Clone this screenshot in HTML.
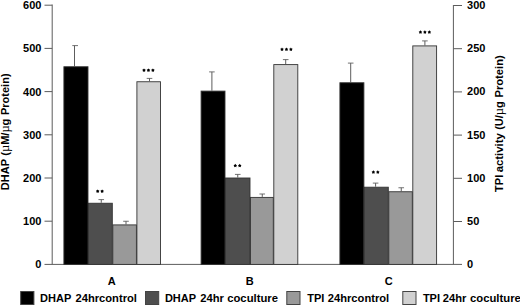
<!DOCTYPE html>
<html><head><meta charset="utf-8"><title>chart</title>
<style>
html,body{margin:0;padding:0;background:#fff;}
body{width:520px;height:306px;overflow:hidden;}
svg{display:block;}
text{font-family:"Liberation Sans",sans-serif;font-weight:bold;font-size:11px;fill:#000;}
.mu{font-family:"Liberation Serif",serif;font-weight:normal;font-size:12.5px;}
</style></head><body>
<svg width="520" height="306" viewBox="0 0 520 306">
<rect x="0" y="0" width="520" height="306" fill="#fff"/>

<g stroke="#5c5c5c" stroke-width="1" fill="none">
<line x1="52.2" y1="4.5" x2="52.2" y2="264.4"/>
<line x1="453.4" y1="5" x2="453.4" y2="264.4"/>
<line x1="44.5" y1="264.4" x2="462" y2="264.4"/>
<line x1="44.5" y1="221.20" x2="52.2" y2="221.20"/>
<line x1="453.4" y1="221.50" x2="462" y2="221.50"/>
<line x1="44.5" y1="178.00" x2="52.2" y2="178.00"/>
<line x1="453.4" y1="178.30" x2="462" y2="178.30"/>
<line x1="44.5" y1="134.80" x2="52.2" y2="134.80"/>
<line x1="453.4" y1="135.10" x2="462" y2="135.10"/>
<line x1="44.5" y1="91.60" x2="52.2" y2="91.60"/>
<line x1="453.4" y1="91.90" x2="462" y2="91.90"/>
<line x1="44.5" y1="48.40" x2="52.2" y2="48.40"/>
<line x1="453.4" y1="48.70" x2="462" y2="48.70"/>
<line x1="44.5" y1="5.20" x2="52.2" y2="5.20"/>
<line x1="453.4" y1="5.50" x2="462" y2="5.50"/>
</g>
<text x="41.4" y="268.40" text-anchor="end">0</text>
<text x="467.1" y="268.20">0</text>
<text x="41.4" y="225.20" text-anchor="end">100</text>
<text x="467.1" y="225.00">50</text>
<text x="41.4" y="182.00" text-anchor="end">200</text>
<text x="467.1" y="181.80">100</text>
<text x="41.4" y="138.80" text-anchor="end">300</text>
<text x="467.1" y="138.60">150</text>
<text x="41.4" y="95.60" text-anchor="end">400</text>
<text x="467.1" y="95.40">200</text>
<text x="41.4" y="52.40" text-anchor="end">500</text>
<text x="467.1" y="52.20">250</text>
<text x="41.4" y="9.20" text-anchor="end">600</text>
<text x="467.1" y="9.00">300</text>
<line x1="74.5" y1="45.6" x2="74.5" y2="66.25" stroke="#333" stroke-width="0.8"/>
<line x1="72.30" y1="45.6" x2="78.00" y2="45.6" stroke="#5a5a5a" stroke-width="0.85"/>
<rect x="63.90" y="66.75" width="24.10" height="197.65" fill="#000" stroke="#333" stroke-width="0.9"/>
<line x1="101.25" y1="199.6" x2="101.25" y2="202.75" stroke="#333" stroke-width="0.8"/>
<line x1="98.45" y1="199.6" x2="104.05" y2="199.6" stroke="#5a5a5a" stroke-width="0.85"/>
<rect x="88.50" y="203.25" width="23.80" height="61.15" fill="#4e4e4e" stroke="#333" stroke-width="0.9"/>
<polygon points="97.68,189.45 98.35,190.37 99.43,190.73 98.77,191.66 98.76,192.80 97.68,192.45 96.59,192.80 96.58,191.66 95.92,190.73 97.00,190.37" fill="#000"/>
<polygon points="102.12,189.45 102.80,190.37 103.88,190.73 103.22,191.66 103.21,192.80 102.12,192.45 101.04,192.80 101.03,191.66 100.37,190.73 101.45,190.37" fill="#000"/>
<line x1="126.0" y1="221.25" x2="126.0" y2="224.4" stroke="#333" stroke-width="0.8"/>
<line x1="123.20" y1="221.25" x2="128.80" y2="221.25" stroke="#5a5a5a" stroke-width="0.85"/>
<rect x="112.80" y="224.90" width="23.60" height="39.50" fill="#999" stroke="#333" stroke-width="0.9"/>
<line x1="149.5" y1="78.4" x2="149.5" y2="81.25" stroke="#333" stroke-width="0.8"/>
<line x1="146.70" y1="78.4" x2="152.30" y2="78.4" stroke="#5a5a5a" stroke-width="0.85"/>
<rect x="136.90" y="81.75" width="23.60" height="182.65" fill="#d1d1d1" stroke="#333" stroke-width="0.9"/>
<polygon points="144.00,68.45 144.68,69.37 145.76,69.73 145.09,70.66 145.09,71.80 144.00,71.45 142.91,71.80 142.91,70.66 142.24,69.73 143.32,69.37" fill="#000"/>
<polygon points="148.45,68.45 149.13,69.37 150.21,69.73 149.54,70.66 149.54,71.80 148.45,71.45 147.36,71.80 147.36,70.66 146.69,69.73 147.77,69.37" fill="#000"/>
<polygon points="152.90,68.45 153.58,69.37 154.66,69.73 153.99,70.66 153.99,71.80 152.90,71.45 151.81,71.80 151.81,70.66 151.14,69.73 152.22,69.37" fill="#000"/>
<line x1="211.9" y1="71.9" x2="211.9" y2="90.6" stroke="#333" stroke-width="0.8"/>
<line x1="209.10" y1="71.9" x2="214.70" y2="71.9" stroke="#5a5a5a" stroke-width="0.85"/>
<rect x="201.10" y="91.10" width="23.90" height="173.30" fill="#000" stroke="#333" stroke-width="0.9"/>
<line x1="237.75" y1="174.4" x2="237.75" y2="177.5" stroke="#333" stroke-width="0.8"/>
<line x1="234.95" y1="174.4" x2="240.55" y2="174.4" stroke="#5a5a5a" stroke-width="0.85"/>
<rect x="225.50" y="178.00" width="24.50" height="86.40" fill="#4e4e4e" stroke="#333" stroke-width="0.9"/>
<polygon points="235.28,163.85 235.95,164.77 237.03,165.13 236.37,166.06 236.36,167.20 235.28,166.85 234.19,167.20 234.18,166.06 233.52,165.13 234.60,164.77" fill="#000"/>
<polygon points="239.72,163.85 240.40,164.77 241.48,165.13 240.82,166.06 240.81,167.20 239.72,166.85 238.64,167.20 238.63,166.06 237.97,165.13 239.05,164.77" fill="#000"/>
<line x1="262.25" y1="194.0" x2="262.25" y2="196.9" stroke="#333" stroke-width="0.8"/>
<line x1="259.45" y1="194.0" x2="265.05" y2="194.0" stroke="#5a5a5a" stroke-width="0.85"/>
<rect x="250.50" y="197.40" width="22.80" height="67.00" fill="#999" stroke="#333" stroke-width="0.9"/>
<line x1="285.7" y1="59.6" x2="285.7" y2="64.1" stroke="#333" stroke-width="0.8"/>
<line x1="282.90" y1="59.6" x2="288.50" y2="59.6" stroke="#5a5a5a" stroke-width="0.85"/>
<rect x="273.80" y="64.60" width="24.00" height="199.80" fill="#d1d1d1" stroke="#333" stroke-width="0.9"/>
<polygon points="282.00,47.55 282.68,48.47 283.76,48.83 283.09,49.76 283.09,50.90 282.00,50.55 280.91,50.90 280.91,49.76 280.24,48.83 281.32,48.47" fill="#000"/>
<polygon points="286.45,47.55 287.13,48.47 288.21,48.83 287.54,49.76 287.54,50.90 286.45,50.55 285.36,50.90 285.36,49.76 284.69,48.83 285.77,48.47" fill="#000"/>
<polygon points="290.90,47.55 291.58,48.47 292.66,48.83 291.99,49.76 291.99,50.90 290.90,50.55 289.81,50.90 289.81,49.76 289.14,48.83 290.22,48.47" fill="#000"/>
<line x1="350.7" y1="63.1" x2="350.7" y2="82.25" stroke="#333" stroke-width="0.8"/>
<line x1="347.90" y1="63.1" x2="353.50" y2="63.1" stroke="#5a5a5a" stroke-width="0.85"/>
<rect x="339.90" y="82.75" width="24.00" height="181.65" fill="#000" stroke="#333" stroke-width="0.9"/>
<line x1="375.6" y1="183.1" x2="375.6" y2="186.7" stroke="#333" stroke-width="0.8"/>
<line x1="372.80" y1="183.1" x2="378.40" y2="183.1" stroke="#5a5a5a" stroke-width="0.85"/>
<rect x="364.40" y="187.20" width="23.90" height="77.20" fill="#4e4e4e" stroke="#333" stroke-width="0.9"/>
<polygon points="373.38,170.35 374.05,171.27 375.13,171.63 374.47,172.56 374.46,173.70 373.38,173.35 372.29,173.70 372.28,172.56 371.62,171.63 372.70,171.27" fill="#000"/>
<polygon points="377.83,170.35 378.50,171.27 379.58,171.63 378.92,172.56 378.91,173.70 377.83,173.35 376.74,173.70 376.73,172.56 376.07,171.63 377.15,171.27" fill="#000"/>
<line x1="401.25" y1="187.75" x2="401.25" y2="191.25" stroke="#333" stroke-width="0.8"/>
<line x1="398.45" y1="187.75" x2="404.05" y2="187.75" stroke="#5a5a5a" stroke-width="0.85"/>
<rect x="388.80" y="191.75" width="23.50" height="72.65" fill="#999" stroke="#333" stroke-width="0.9"/>
<line x1="424.9" y1="40.9" x2="424.9" y2="45.4" stroke="#333" stroke-width="0.8"/>
<line x1="422.10" y1="40.9" x2="427.70" y2="40.9" stroke="#5a5a5a" stroke-width="0.85"/>
<rect x="412.80" y="45.90" width="23.80" height="218.50" fill="#d1d1d1" stroke="#333" stroke-width="0.9"/>
<polygon points="420.45,30.35 421.13,31.27 422.21,31.63 421.54,32.56 421.54,33.70 420.45,33.35 419.36,33.70 419.36,32.56 418.69,31.63 419.77,31.27" fill="#000"/>
<polygon points="424.90,30.35 425.58,31.27 426.66,31.63 425.99,32.56 425.99,33.70 424.90,33.35 423.81,33.70 423.81,32.56 423.14,31.63 424.22,31.27" fill="#000"/>
<polygon points="429.35,30.35 430.03,31.27 431.11,31.63 430.44,32.56 430.44,33.70 429.35,33.35 428.26,33.70 428.26,32.56 427.59,31.63 428.67,31.27" fill="#000"/>
<text x="111.8" y="285.2" text-anchor="middle">A</text>
<text x="249.7" y="285.2" text-anchor="middle">B</text>
<text x="388.8" y="285.2" text-anchor="middle">C</text>
<g transform="translate(9.4,189.6) rotate(-90)">
<text x="-0.6" y="0">DHAP</text>
<text x="33.9" y="0">(<tspan class="mu">µ</tspan>M/<tspan class="mu">µ</tspan>g</text>
<text x="74.6" y="0">Protein)</text>
</g>
<g transform="translate(502.6,191.7) rotate(-90)">
<text x="-0.2" y="0">TPI</text>
<text x="19.4" y="0" textLength="39.2" lengthAdjust="spacingAndGlyphs">activity</text>
<text x="61.9" y="0">(U/<tspan class="mu">µ</tspan>g</text>
<text x="94.2" y="0" textLength="42.2" lengthAdjust="spacingAndGlyphs">Protein)</text>
</g>
<rect x="20.7" y="291.5" width="13.2" height="13" fill="#000" stroke="#444" stroke-width="1"/>
<text x="40.1" y="301.7">DHAP</text>
<text x="75.5" y="301.7" textLength="61.4" lengthAdjust="spacingAndGlyphs">24hrcontrol</text>
<rect x="145.5" y="291.5" width="13.2" height="13" fill="#4e4e4e" stroke="#444" stroke-width="1"/>
<text x="164.9" y="301.7">DHAP</text>
<text x="200.3" y="301.7" textLength="23.6" lengthAdjust="spacingAndGlyphs">24hr</text>
<text x="227.2" y="301.7" textLength="50.8" lengthAdjust="spacingAndGlyphs">coculture</text>
<rect x="286.8" y="291.5" width="13.2" height="13" fill="#999" stroke="#444" stroke-width="1"/>
<text x="307.3" y="301.7">TPI</text>
<text x="327.8" y="301.7" textLength="61.4" lengthAdjust="spacingAndGlyphs">24hrcontrol</text>
<rect x="402.8" y="291.5" width="13.2" height="13" fill="#d1d1d1" stroke="#444" stroke-width="1"/>
<text x="422.9" y="301.7">TPI</text>
<text x="442.8" y="301.7" textLength="23.6" lengthAdjust="spacingAndGlyphs">24hr</text>
<text x="470.0" y="301.7" textLength="50.8" lengthAdjust="spacingAndGlyphs">coculture</text>
</svg></body></html>
